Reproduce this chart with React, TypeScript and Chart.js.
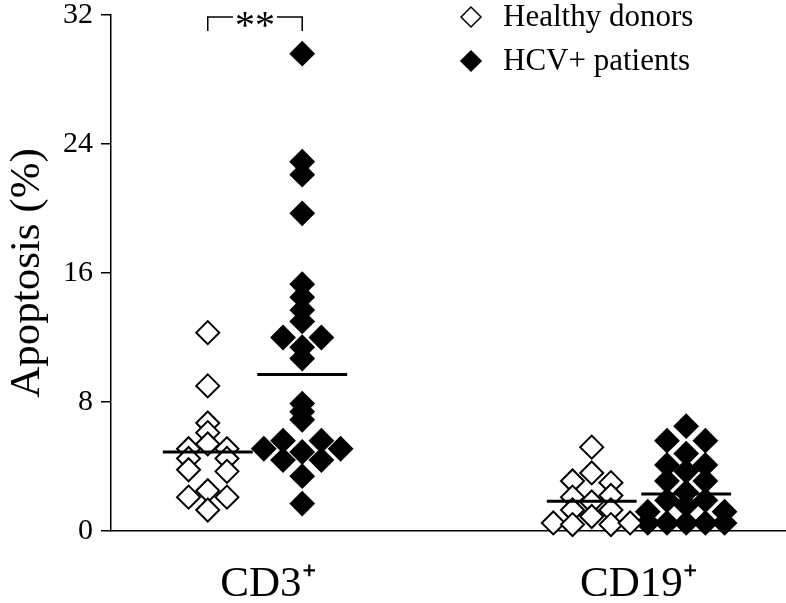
import React, { useEffect, useRef } from 'react';
import { Chart, registerables } from 'chart.js';

Chart.register(...registerables);

// ---------- data ----------
const categories = ['CD3⁺', 'CD19⁺'];
const seriesNames = ['Healthy donors', 'HCV+ patients'];
const yTickStep = 8;
const yMax = 32;
const axisTitle = 'Apoptosis (%)';
const significance = '**';

// values (%) and jitter column for each dot
const cd3Healthy = [12.3, 9.0, 6.7, 6.1, 5.4, 5.1, 5.1, 4.5, 4.5, 3.8, 3.7, 2.5, 2.1, 2.1, 1.3];
const cd3HealthyCol = [0, 0, 0, 0, 0, -1, 1, -1, 1, -1, 1, 0, -1, 1, 0];

const cd3Hcv = [29.6, 22.9, 22.1, 19.7, 15.3, 14.5, 13.7, 13.0, 12.0, 12.0, 11.4, 10.7, 7.9, 7.4, 6.9, 5.6, 5.6, 5.1, 5.1, 4.9, 4.4, 4.4, 3.4, 1.7];
const cd3HcvCol = [0, 0, 0, 0, 0, 0, 0, 0, -1, 1, 0, 0, 0, 0, 0, -1, 1, -2, 2, 0, -1, 1, 0, 0];

const cd19Healthy = [5.2, 3.6, 3.1, 3.0, 2.1, 2.2, 1.8, 1.3, 1.3, 0.9, 0.5, 0.4, 0.4, 0.5];
const cd19HealthyCol = [0, 0, -1, 1, -1, 1, 0, -1, 1, 0, -2, -1, 1, 2];

const cd19Hcv = [6.5, 5.6, 5.6, 4.8, 4.1, 4.1, 3.7, 3.1, 3.1, 2.4, 1.9, 1.9, 1.6, 1.2, 1.2, 0.5, 0.5, 0.5, 0.5, 0.5];
const cd19HcvCol = [0, -1, 1, 0, -1, 1, 0, -1, 1, 0, -1, 1, 0, -2, 2, -2, -1, 0, 1, 2];

const healthyMeans = [4.9, 1.85];
const hcvMeans = [9.7, 2.3];

// ---------- layout constants (not data) ----------
const GROUP_OFFSET = 0.123;
const JITTER = 0.05;
const MEAN_HALF = 0.117;
const LABEL_SHIFT = [0.035, 0.0];
const FONT = "'Liberation Serif', 'Times New Roman', serif";

function points(vals: number[], cols: number[], cat: number, side: number) {
  return vals.map((v, i) => ({ x: cat + 1 + side * GROUP_OFFSET + cols[i] * JITTER, y: v }));
}
function meanLine(m: number, cat: number, side: number) {
  const c = cat + 1 + side * GROUP_OFFSET;
  return [{ x: c - MEAN_HALF, y: m }, { x: c + MEAN_HALF, y: m }];
}

function diamond(ctx: CanvasRenderingContext2D, x: number, y: number, r: number) {
  ctx.beginPath();
  ctx.moveTo(x - r, y);
  ctx.lineTo(x, y - r);
  ctx.lineTo(x + r, y);
  ctx.lineTo(x, y + r);
  ctx.closePath();
}

const overlayPlugin = {
  id: 'overlay',
  afterDraw(chart: any) {
    const ctx: CanvasRenderingContext2D = chart.ctx;
    const xs = chart.scales.x;
    const ys = chart.scales.y;
    ctx.save();
    // legend
    const fills = ['#ffffff', '#000000'];
    seriesNames.forEach((name, i) => {
      const cx = 471;
      const cy = 17 + i * 44;
      diamond(ctx, cx, cy, 10);
      ctx.fillStyle = fills[i];
      ctx.fill();
      ctx.lineWidth = 1.5;
      ctx.strokeStyle = '#000';
      ctx.stroke();
      ctx.fillStyle = '#000';
      ctx.font = `31px ${FONT}`;
      ctx.textAlign = 'left';
      ctx.textBaseline = 'middle';
      ctx.fillText(name, 503, cy + 1);
    });
    // significance bracket
    const x1 = xs.getPixelForValue(1 - GROUP_OFFSET);
    const x2 = xs.getPixelForValue(1 + GROUP_OFFSET);
    const yTop = ys.getPixelForValue(yMax) + 2;
    const mid = (x1 + x2) / 2;
    ctx.font = `40px ${FONT}`;
    const w = ctx.measureText(significance).width;
    ctx.strokeStyle = '#000';
    ctx.lineWidth = 1.5;
    ctx.beginPath();
    ctx.moveTo(x1, yTop + 14);
    ctx.lineTo(x1, yTop);
    ctx.lineTo(mid - w / 2 - 2, yTop);
    ctx.moveTo(mid + w / 2 + 2, yTop);
    ctx.lineTo(x2, yTop);
    ctx.lineTo(x2, yTop + 14);
    ctx.stroke();
    ctx.fillStyle = '#000';
    ctx.textAlign = 'center';
    ctx.textBaseline = 'alphabetic';
    ctx.fillText(significance, mid, yTop + 21);
    ctx.restore();
  },
};

export default function App() {
  const ref = useRef<HTMLCanvasElement | null>(null);
  useEffect(() => {
    if (!ref.current) return;
    const pointStyle = {
      type: 'scatter' as const,
      pointStyle: 'rectRot',
      pointRadius: 11.5,
      pointBorderWidth: 2,
      borderColor: '#000',
      clip: false as any,
      order: 2,
    };
    const lineStyle = {
      type: 'line' as const,
      borderColor: '#000',
      borderWidth: 3,
      pointRadius: 0,
      fill: false,
      clip: false as any,
      order: 0,
    };
    const chart = new Chart(ref.current, {
      type: 'scatter',
      data: {
        datasets: [
          { ...lineStyle, label: 'mean h0', data: meanLine(healthyMeans[0], 0, -1) },
          { ...lineStyle, label: 'mean p0', data: meanLine(hcvMeans[0], 0, 1) },
          { ...lineStyle, label: 'mean h1', data: meanLine(healthyMeans[1], 1, -1) },
          { ...lineStyle, label: 'mean p1', data: meanLine(hcvMeans[1], 1, 1) },
          { ...pointStyle, label: seriesNames[0], backgroundColor: '#fff', data: [...points(cd3Healthy, cd3HealthyCol, 0, -1), ...points(cd19Healthy, cd19HealthyCol, 1, -1)] },
          { ...pointStyle, label: seriesNames[1], backgroundColor: '#000', data: [...points(cd3Hcv, cd3HcvCol, 0, 1), ...points(cd19Hcv, cd19HcvCol, 1, 1)] },
        ] as any,
      },
      options: {
        animation: false,
        responsive: true,
        maintainAspectRatio: false,
        events: [],
        layout: { autoPadding: false, padding: { top: 0, left: 0, right: 0, bottom: 0 } },
        plugins: { legend: { display: false }, tooltip: { enabled: false } },
        scales: {
          x: {
            type: 'linear',
            min: 0.625,
            max: 2.383,
            afterBuildTicks: (s: any) => {
              s.ticks = categories.map((_, i) => ({ value: i + 1 + LABEL_SHIFT[i] }));
            },
            ticks: {
              callback: (v: any) => categories[Math.round(Number(v)) - 1] ?? '',
              color: '#000',
              font: { family: FONT, size: 43 },
              padding: 20,
              autoSkip: false,
              maxRotation: 0,
            },
            grid: { display: false },
            border: { display: true, color: '#000', width: 1.5 },
            afterFit: (s: any) => {
              s.height = 72;
              s.paddingLeft = 0;
              s.paddingRight = 0;
            },
          },
          y: {
            min: 0,
            max: yMax,
            ticks: {
              stepSize: yTickStep,
              color: '#000',
              font: { family: FONT, size: 30 },
              padding: 8,
            },
            grid: { display: true, drawOnChartArea: false, drawTicks: true, tickLength: 10, color: '#000', lineWidth: 1.5 },
            border: { display: true, color: '#000', width: 1.5 },
            title: { display: true, text: axisTitle, color: '#000', font: { family: FONT, size: 43 }, padding: { top: 2, bottom: 0 } },
            afterFit: (s: any) => {
              s.width = 111;
              s.paddingTop = 15;
              s.paddingBottom = 0;
            },
          },
        },
      } as any,
      plugins: [overlayPlugin],
    });
    return () => chart.destroy();
  }, []);
  return (
    <div style={{ position: 'fixed', left: 0, top: 0, width: 786, height: 603, background: '#fff' }}>
      <canvas ref={ref} />
    </div>
  );
}
